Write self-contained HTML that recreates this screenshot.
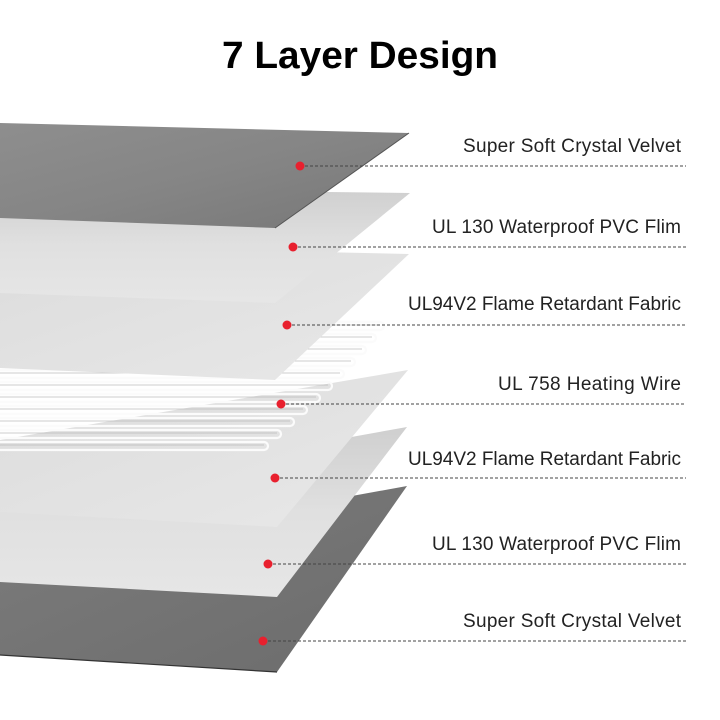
<!DOCTYPE html>
<html><head><meta charset="utf-8"><style>
html,body{margin:0;padding:0;background:#fff;width:720px;height:720px;overflow:hidden}
</style></head><body>
<svg width="720" height="720" viewBox="0 0 720 720" xmlns="http://www.w3.org/2000/svg">
<defs>
<linearGradient id="vel" x1="0" y1="0" x2="1" y2="1"><stop offset="0" stop-color="#8e8e8e"/><stop offset="0.5" stop-color="#858585"/><stop offset="1" stop-color="#777"/></linearGradient>
<linearGradient id="vel2" x1="0" y1="0" x2="1" y2="1"><stop offset="0" stop-color="#7c7c7c"/><stop offset="1" stop-color="#6c6c6c"/></linearGradient>
<linearGradient id="pvc" x1="0" y1="0" x2="0" y2="1"><stop offset="0" stop-color="#cfcfcf"/><stop offset="0.5" stop-color="#e0e0e0"/><stop offset="1" stop-color="#e6e6e6"/></linearGradient>
<linearGradient id="fab" x1="0" y1="0" x2="1" y2="1"><stop offset="0" stop-color="#dcdcdc"/><stop offset="1" stop-color="#e8e8e8"/></linearGradient>
</defs>
<text x="360" y="68" text-anchor="middle" font-family="Liberation Sans, sans-serif" font-weight="bold" font-size="38" textLength="276" lengthAdjust="spacingAndGlyphs" fill="#000">7 Layer Design</text>

<polygon points="0,560 407,486 277,672 0,655" fill="url(#vel2)"/>
<line x1="0" y1="655" x2="277" y2="672" stroke="#333" stroke-width="1.2"/>
<polygon points="0,500 407,427 277,597 0,582" fill="url(#pvc)"/>
<polygon points="0,440 408,370 277,527 0,512" fill="url(#fab)"/>
<g fill="none" stroke="#fbfbfb" stroke-width="2.2" stroke-linecap="round">
<path d="M0,322 H380 a4,4 0 0 1 0,8 H0"/>
<path d="M0,334 H372 a4,4 0 0 1 0,8 H0"/>
<path d="M0,346 H362 a4,4 0 0 1 0,8 H0"/>
<path d="M0,358 H351 a4,4 0 0 1 0,8 H0"/>
<path d="M0,370 H340 a4,4 0 0 1 0,8 H0"/>
<path d="M0,382 H328 a4,4 0 0 1 0,8 H0"/>
<path d="M0,394 H316 a4,4 0 0 1 0,8 H0"/>
<path d="M0,406 H303 a4,4 0 0 1 0,8 H0"/>
<path d="M0,418 H290 a4,4 0 0 1 0,8 H0"/>
<path d="M0,430 H277 a4,4 0 0 1 0,8 H0"/>
<path d="M0,442 H264 a4,4 0 0 1 0,8 H0"/>
</g>
<g fill="none" stroke="#b8b8b8" stroke-width="1" opacity="0.7">
<path d="M0,325 H380 M0,337 H372 M0,349 H362 M0,361 H351 M0,373 H340 M0,385 H328 M0,397 H316 M0,409 H303 M0,421 H290 M0,433 H277 M0,445 H264"/>
</g>
<polygon points="0,245 409,254 275,380 0,368" fill="url(#fab)"/>
<polygon points="0,188 410,193 275,303 0,293" fill="url(#pvc)"/>
<polygon points="0,123 409,133 275,228 0,218" fill="url(#vel)"/>
<line x1="409" y1="133" x2="275" y2="228" stroke="#555" stroke-width="1"/>

<g stroke="#444" stroke-width="1" stroke-dasharray="3,2">
<line x1="300" y1="166" x2="686" y2="166"/>
<line x1="293" y1="247" x2="686" y2="247"/>
<line x1="287" y1="325" x2="686" y2="325"/>
<line x1="281" y1="404" x2="686" y2="404"/>
<line x1="275" y1="478" x2="686" y2="478"/>
<line x1="268" y1="564" x2="686" y2="564"/>
<line x1="263" y1="641" x2="686" y2="641"/>
</g>
<g fill="#e8202e">
<circle cx="300" cy="166" r="4.5"/><circle cx="293" cy="247" r="4.5"/><circle cx="287" cy="325" r="4.5"/><circle cx="281" cy="404" r="4.5"/><circle cx="275" cy="478" r="4.5"/><circle cx="268" cy="564" r="4.5"/><circle cx="263" cy="641" r="4.5"/>
</g>
<g font-family="Liberation Sans, sans-serif" font-size="19" fill="#222" text-anchor="end">
<text x="681" y="152" textLength="218">Super Soft Crystal Velvet</text>
<text x="681" y="233" textLength="249">UL 130 Waterproof PVC Flim</text>
<text x="681" y="310" textLength="273">UL94V2 Flame Retardant Fabric</text>
<text x="681" y="390" textLength="183">UL 758 Heating Wire</text>
<text x="681" y="465" textLength="273">UL94V2 Flame Retardant Fabric</text>
<text x="681" y="550" textLength="249">UL 130 Waterproof PVC Flim</text>
<text x="681" y="627" textLength="218">Super Soft Crystal Velvet</text>
</g>
</svg>
</body></html>
